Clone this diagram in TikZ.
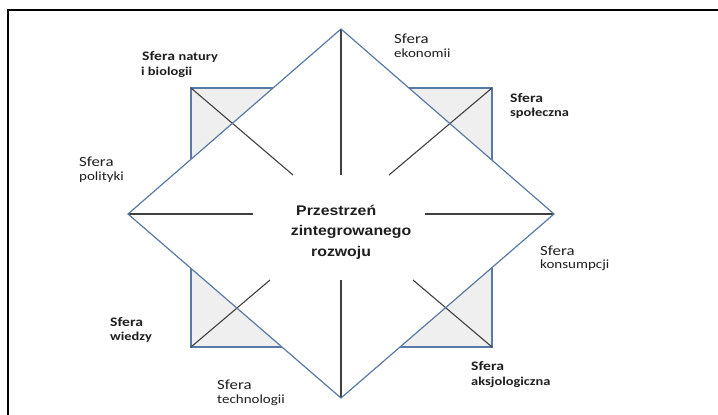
\documentclass[tikz,border=0pt]{standalone}
\usepackage{fontspec}
\newfontfamily\calfont{Carlito}[FakeStretch=1.2]
\newfontfamily\arfont{Liberation Sans}[FakeStretch=1.13]
\definecolor{edgeblue}{RGB}{88,122,165}
\definecolor{innerline}{RGB}{64,64,64}
\definecolor{cornerfill}{RGB}{239,239,239}
\definecolor{txt}{RGB}{30,30,30}
\tikzset{
  edge/.style={draw=edgeblue, line width=1.2pt},
  inner/.style={draw=innerline, line width=1.1pt},
  corner/.style={fill=cornerfill},
  lbl/.style={anchor=base west, inner sep=0pt, text=txt, font=\calfont},
  ctr/.style={anchor=base west, inner sep=0pt, text=txt, font=\arfont\bfseries\fontsize{14}{16}\selectfont},
}
\newcommand{\bigS}{\fontsize{14}{16}\selectfont}
\newcommand{\smallS}{\fontsize{12.5}{15}\selectfont}
\newcommand{\bigB}{\bfseries\fontsize{13}{15}\selectfont}
\newcommand{\smallB}{\bfseries\fontsize{12}{15}\selectfont}
\begin{document}
\begin{tikzpicture}[x=1pt,y=-1pt]
\useasboundingbox (0,0) rectangle (718,415);
% frame
\coordinate (fb) at (8,415);
\coordinate (fc) at (8,10);
\coordinate (fr) at (718,10);
\draw[line width=2pt, line join=miter] (fb) -- (fc) -- (fr);
% diamond vertices
\coordinate (T) at (341,29);
\coordinate (L) at (128,214);
\coordinate (R) at (554,214);
\coordinate (B) at (341,398);
% inner line ends
\coordinate (Ti) at (341,175);
\coordinate (Li) at (253,214);
\coordinate (Ri) at (425,214);
\coordinate (Bi) at (341,280);
% corner squares
\coordinate (tlc) at (191,88);
\coordinate (tla) at (273.1,88);
\coordinate (tlb) at (191,159.3);
\coordinate (tld) at (293,175);
\coordinate (trc) at (492,88);
\coordinate (tra) at (408.9,88);
\coordinate (trb) at (492,160.1);
\coordinate (trd) at (389,175);
\coordinate (blc) at (191,347);
\coordinate (bla) at (191,268.4);
\coordinate (blb) at (282,347);
\coordinate (bld) at (270,280);
\coordinate (brc) at (492,347);
\coordinate (bra) at (492,267.6);
\coordinate (brb) at (400,347);
\coordinate (brd) at (413,280);
% fills
\fill[corner] (tlc) -- (tla) -- (tlb) -- cycle;
\fill[corner] (trc) -- (tra) -- (trb) -- cycle;
\fill[corner] (blc) -- (bla) -- (blb) -- cycle;
\fill[corner] (brc) -- (bra) -- (brb) -- cycle;
% square sides
\draw[edge] (tla) -- (tlc) -- (tlb);
\draw[edge] (tra) -- (trc) -- (trb);
\draw[edge] (bla) -- (blc) -- (blb);
\draw[edge] (bra) -- (brc) -- (brb);
% diagonals
\draw[inner] (tlc) -- (tld);
\draw[inner] (trc) -- (trd);
\draw[inner] (blc) -- (bld);
\draw[inner] (brc) -- (brd);
% cross
\draw[inner] (T) -- (Ti);
\draw[inner] (L) -- (Li);
\draw[inner] (R) -- (Ri);
\draw[inner] (B) -- (Bi);
% diamond
\draw[edge, line join=miter] (T) -- (R) -- (B) -- (L) -- cycle;
% labels
\node[lbl] (n1) at (142,60) {\bigB Sfera \smallB natury};
\node[lbl] (n2) at (141,75) {\smallB i biologii};
\node[lbl] (e1) at (394,43.5) {\bigS Sfera};
\node[lbl] (e2) at (394,57) {\smallS ekonomii};
\node[lbl] (s1) at (510,102.5) {\bigB Sfera};
\node[lbl] (s2) at (510,116) {\smallB społeczna};
\node[lbl] (p1) at (79,166.5) {\bigS Sfera};
\node[lbl] (p2) at (79,180.5) {\smallS polityki};
\node[lbl] (k1) at (540,255) {\bigS Sfera};
\node[lbl] (k2) at (540,268.5) {\smallS konsumpcji};
\node[lbl] (w1) at (110,326.5) {\bigB Sfera};
\node[lbl] (w2) at (110,340.5) {\smallB wiedzy};
\node[lbl] (t1) at (217,389.5) {\bigS Sfera};
\node[lbl] (t2) at (217,403.5) {\smallS technologii};
\node[lbl] (a1) at (471,370) {\bigB Sfera};
\node[lbl] (a2) at (471,385) {\smallB aksjologiczna};
% centre
\node[ctr] (c1) at (296,215) {Przestrzeń};
\node[ctr] (c2) at (290.7,235.5) {zintegrowanego};
\node[ctr] (c3) at (311,256) {rozwoju};
\end{tikzpicture}
\end{document}
